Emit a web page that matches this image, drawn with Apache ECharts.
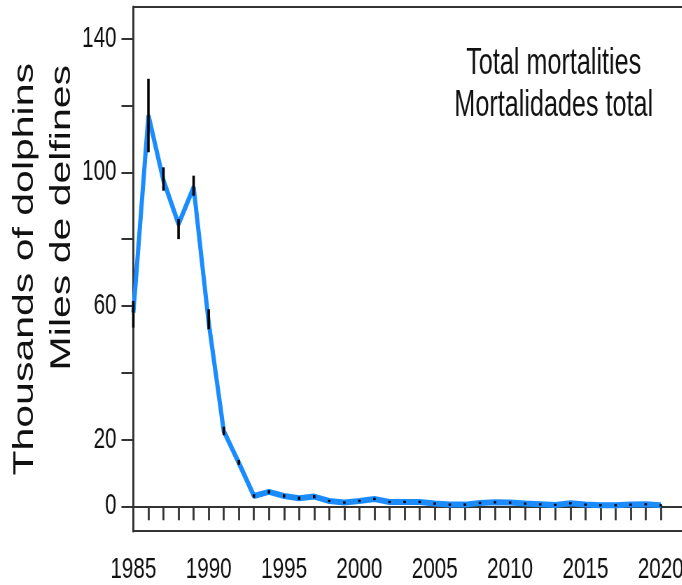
<!DOCTYPE html>
<html>
<head>
<meta charset="utf-8">
<title>Total mortalities</title>
<script src="https://cdn.jsdelivr.net/npm/echarts@6/dist/echarts.min.js"></script>
<style>
html, body { margin: 0; padding: 0; overflow: hidden; background: #fff; }
.wrap { width: 682px; height: 585px; overflow: hidden; }
/* the source figure is squeezed sideways: draw it wider, then scale it down in x */
#chart { width: 1000px; height: 585px; transform: scaleX(0.7); transform-origin: 0 0; }
</style>
</head>
<body>
<div class="wrap"><div id="chart"></div></div>
<script>
// years on the x axis
const years = [1985, 1986, 1987, 1988, 1989, 1990, 1991, 1992, 1993, 1994,
  1995, 1996, 1997, 1998, 1999, 2000, 2001, 2002, 2003, 2004,
  2005, 2006, 2007, 2008, 2009, 2010, 2011, 2012, 2013, 2014,
  2015, 2016, 2017, 2018, 2019, 2020]

// total mortalities, thousands of dolphins
const mortality = [58, 117, 97.5, 84.5, 95.5, 55, 22.5, 13, 3.1, 4.3,
  3.1, 2.4, 2.9, 1.6, 1.1, 1.6, 2.2, 1.3, 1.3, 1.3,
  0.8, 0.5, 0.5, 1.0, 1.2, 1.1, 0.8, 0.6, 0.4, 0.9,
  0.5, 0.3, 0.3, 0.5, 0.6, 0.3]

// error bar ends
const errLow = [53.5, 106, 94.5, 80, 93, 53, 21.3, 12.4, 2.6, 3.8,
  2.6, 1.9, 2.4, 1.25, 0.75, 1.25, 1.85, 0.95, 0.95, 0.95,
  0.45, 0.15, 0.15, 0.65, 0.85, 0.75, 0.45, 0.25, 0.05, 0.55,
  0.15, -0.05, -0.05, 0.15, 0.25, -0.05]
const errHigh = [61.5, 128, 101.5, 86, 99, 59, 23.8, 13.9, 3.6, 4.8,
  3.6, 2.9, 3.4, 1.95, 1.45, 1.95, 2.55, 1.65, 1.65, 1.65,
  1.15, 0.85, 0.85, 1.35, 1.55, 1.45, 1.15, 0.95, 0.75, 1.25,
  0.85, 0.65, 0.65, 0.85, 0.95, 0.65]

// axis ticks and labels
const xTicks = [1986, 1987, 1988, 1989, 1990, 1991, 1992, 1993, 1994, 1995,
  1996, 1997, 1998, 1999, 2000, 2001, 2002, 2003, 2004, 2005,
  2006, 2007, 2008, 2009, 2010, 2011, 2012, 2013, 2014, 2015,
  2016, 2017, 2018, 2019, 2020]
const xLabels = [1985, 1990, 1995, 2000, 2005, 2010, 2015, 2020]
const yTicks = [0, 20, 40, 60, 80, 100, 120, 140]
const yLabels = [0, 20, 60, 100, 140]

const font = 'Liberation Sans, Arial, Helvetica, sans-serif'
const axisColor = '#333'

const chart = echarts.init(document.getElementById('chart'))

chart.setOption({
  animation: false,
  grid: {
    left: 190.5,
    right: 13,
    top: 7,
    bottom: 54,
    show: true,
    borderColor: axisColor,
    borderWidth: 2
  },
  xAxis: {
    type: 'value',
    min: 1985,
    max: 2022,
    splitLine: { show: false },
    axisLine: { show: true, lineStyle: { color: axisColor, width: 2 } },
    axisTick: {
      show: true,
      customValues: xTicks,
      length: 14,
      lineStyle: { color: axisColor, width: 2.8 }
    },
    axisLabel: {
      customValues: xLabels,
      formatter: v => String(v),
      margin: 24,
      color: '#111',
      fontFamily: font,
      fontSize: 29.5
    }
  },
  yAxis: {
    type: 'value',
    min: -7.4,
    max: 149.5,
    splitLine: { show: false },
    axisLine: { show: true, lineStyle: { color: axisColor, width: 3 } },
    axisTick: {
      show: true,
      customValues: yTicks,
      length: 17,
      lineStyle: { color: axisColor, width: 2 }
    },
    axisLabel: {
      customValues: yLabels,
      margin: 24,
      color: '#111',
      fontFamily: font,
      fontSize: 29.5
    }
  },
  graphic: [
    // y axis title, two lines, end aligned at the top
    {
      type: 'text',
      x: 36,
      y: 63,
      rotation: Math.PI / 2,
      style: {
        text: 'Thousands of dolphins',
        font: '41px ' + font,
        fill: '#111',
        textAlign: 'right',
        textVerticalAlign: 'middle'
      }
    },
    {
      type: 'text',
      x: 89,
      y: 65,
      rotation: Math.PI / 2,
      style: {
        text: 'Miles de delfines',
        font: '41px ' + font,
        fill: '#111',
        textAlign: 'right',
        textVerticalAlign: 'middle'
      }
    },
    // label in the top right corner
    {
      type: 'text',
      x: 791,
      y: 85,
      style: {
        text: 'Total mortalities\nMortalidades total',
        font: '36px ' + font,
        lineHeight: 42,
        fill: '#111',
        textAlign: 'center',
        textVerticalAlign: 'middle'
      }
    }
  ],
  series: [
    {
      name: 'Total mortalities',
      type: 'line',
      data: years.map((y, i) => [y, mortality[i]]),
      showSymbol: false,
      lineStyle: { color: '#1a8cff', width: 6 },
      z: 2
    },
    {
      // error bars
      type: 'custom',
      data: years.map((y, i) => [y, errLow[i], errHigh[i]]),
      encode: { x: 0, y: [1, 2] },
      renderItem: (params, api) => {
        const x = api.value(0)
        const lo = api.coord([x, api.value(1)])
        const hi = api.coord([x, api.value(2)])
        return {
          type: 'line',
          shape: { x1: lo[0], y1: lo[1], x2: hi[0], y2: hi[1] },
          style: { stroke: '#000', lineWidth: 3.6 }
        }
      },
      z: 3
    }
  ]
})
</script>
</body>
</html>
